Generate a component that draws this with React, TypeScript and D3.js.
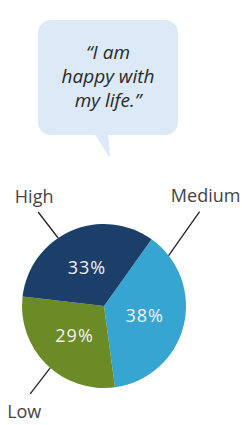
import * as d3 from 'd3';
import { useRef, useEffect } from 'react';

// data
const categories = ['Medium', 'Low', 'High'];
const values = [38, 29, 33];
const colors = ['#37a5d2', '#6b8b26', '#1b3f68'];
const quoteLines = ['\u201CI am', 'happy with', 'my life.\u201D'];

// leader lines: angle on the rim (deg, clockwise from top), offset to outer end, text offset
const leaders = {
  High: { angle: 326, dx: -20, dy: -26, tx: -4, ty: -9 },
  Medium: { angle: 52, dx: 31, dy: -44, tx: 6, ty: -10 },
  Low: { angle: 221, dx: -20, dy: 26, tx: -6, ty: 24 }
};

export default function App() {
  const ref = useRef<SVGSVGElement>(null);

  useEffect(() => {
    const width = 242;
    const height = 425;
    const cx = 104;
    const cy = 306;
    const radius = 82;
    const font = "'Open Sans', 'Noto Sans', sans-serif";

    const svg = d3.select(ref.current)
      .attr('width', width)
      .attr('height', height);
    svg.selectAll('*').remove();

    // speech bubble
    const bubble = svg.append('g');
    bubble.append('rect')
      .attr('x', 38)
      .attr('y', 20)
      .attr('width', 140)
      .attr('height', 115)
      .attr('rx', 13)
      .attr('fill', '#dce9f6');
    bubble.append('path')
      .attr('d', 'M94,133 L108,133 L110,158 Z')
      .attr('fill', '#dce9f6');
    bubble.selectAll('text')
      .data(quoteLines)
      .enter().append('text')
      .attr('x', 108)
      .attr('y', (d, i) => 59 + i * 24)
      .attr('text-anchor', 'middle')
      .attr('font-family', font)
      .attr('font-style', 'italic')
      .attr('font-size', 19)
      .attr('fill', '#2a2a2a')
      .text(d => d);

    // pie
    const toRad = (deg: number) => deg * Math.PI / 180;
    const pie = d3.pie<number>()
      .sort(null)
      .startAngle(toRad(35.5))
      .endAngle(toRad(35.5 + 360));
    const arcs = pie(values);
    const arc = d3.arc<d3.PieArcDatum<number>>()
      .innerRadius(0)
      .outerRadius(radius);
    const labelArc = d3.arc<d3.PieArcDatum<number>>()
      .innerRadius(42)
      .outerRadius(42);

    const g = svg.append('g')
      .attr('transform', `translate(${cx},${cy})`);

    g.selectAll('path')
      .data(arcs)
      .enter().append('path')
      .attr('d', arc)
      .attr('fill', (d, i) => colors[i]);

    g.selectAll('text.pct')
      .data(arcs)
      .enter().append('text')
      .attr('class', 'pct')
      .attr('transform', d => `translate(${labelArc.centroid(d)})`)
      .attr('text-anchor', 'middle')
      .attr('dy', '0.35em')
      .attr('font-family', font)
      .attr('font-size', 18)
      .attr('letter-spacing', 1)
      .attr('fill', '#f2f2f2')
      .text(d => `${d.data}%`);

    // leader lines and category labels
    categories.forEach(name => {
      const l = leaders[name as keyof typeof leaders];
      const a = toRad(l.angle);
      const x0 = Math.sin(a) * radius;
      const y0 = -Math.cos(a) * radius;
      const x1 = x0 + l.dx;
      const y1 = y0 + l.dy;
      g.append('line')
        .attr('x1', x0)
        .attr('y1', y0)
        .attr('x2', x1)
        .attr('y2', y1)
        .attr('stroke', '#222')
        .attr('stroke-width', 1.3);
      g.append('text')
        .attr('x', x1 + l.tx)
        .attr('y', y1 + l.ty)
        .attr('text-anchor', 'middle')
        .attr('font-family', font)
        .attr('font-size', 18)
        .attr('fill', '#444')
        .text(name);
    });
  }, []);

  return (
    <svg ref={ref} style={{ position: 'absolute', left: 0, top: 0 }}></svg>
  );
}
